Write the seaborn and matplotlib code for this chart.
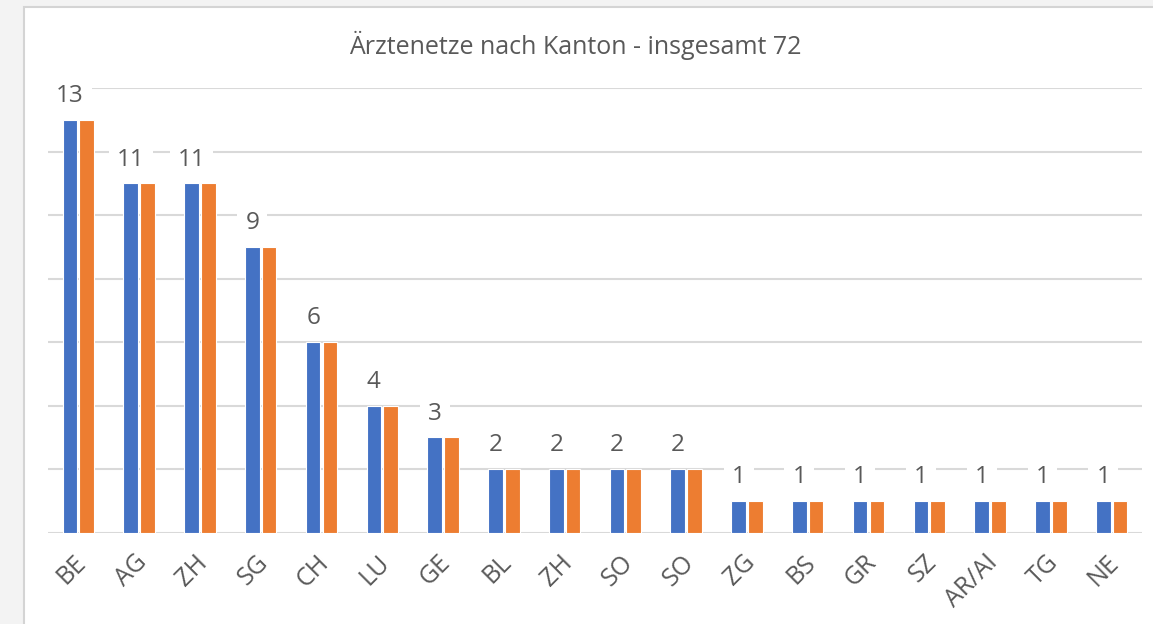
import pandas as pd
import numpy as np
import matplotlib.pyplot as plt
import seaborn as sns
from matplotlib.patches import Rectangle
from matplotlib.transforms import ScaledTranslation

# data (two identical series)
kantone = ["BE", "AG", "ZH", "SG", "CH", "LU", "GE", "BL", "ZH", "SO",
           "SO", "ZG", "BS", "GR", "SZ", "AR/AI", "TG", "NE"]
serie_1 = [13, 11, 11, 9, 6, 4, 3, 2, 2, 2, 2, 1, 1, 1, 1, 1, 1, 1]
serie_2 = [13, 11, 11, 9, 6, 4, 3, 2, 2, 2, 2, 1, 1, 1, 1, 1, 1, 1]
serien = ["Serie 1", "Serie 2"]

title = "Ärztenetze nach Kanton - insgesamt 72"
text_color = "#595959"
grid_color = "#d9d9d9"
colors = ["#4472C4", "#ED7D31"]

# long format, positions as keys because ZH and SO appear twice
pos = list(range(len(kantone)))
df = pd.DataFrame({
    "pos": pos * 2,
    "wert": serie_1 + serie_2,
    "serie": [serien[0]] * len(pos) + [serien[1]] * len(pos),
})

sns.set_style("white")
plt.rcParams["font.family"] = ["Open Sans", "DejaVu Sans"]

fig = plt.figure(figsize=(11.53, 6.24), dpi=100, facecolor="#f3f3f3")
# white chart area like the excel frame (open to the right)
frame = Rectangle((24 / 1153, -0.1), 1.2, 1.1 - 7 / 624,
                  transform=fig.transFigure, facecolor="white",
                  edgecolor="#d4d4d4", linewidth=1.5, zorder=-10)
fig.patches.append(frame)

ax = fig.add_axes([48 / 1153, 1 - 532.5 / 624, (1142 - 48) / 1153, (532.5 - 88) / 624])
ax.set_facecolor("none")

sns.barplot(data=df, x="pos", y="wert", hue="serie", palette=colors,
            saturation=1, width=0.55, gap=0.12, edgecolor="white",
            linewidth=0.8, legend=False, ax=ax, zorder=3)

ax.set_xlim(-0.5, len(kantone) - 0.5)
ax.set_ylim(0, 14)
ax.set_yticks(np.arange(0, 15, 2))
ax.yaxis.grid(True, color=grid_color, linewidth=1.5, zorder=0)
ax.set_axisbelow(True)
ax.set_yticklabels([])
ax.tick_params(axis="y", length=0)
for s in ax.spines.values():
    s.set_visible(False)

ax.set_xticks(pos)
ax.set_xticklabels(kantone, rotation=45, ha="right", va="center",
                   rotation_mode="anchor", color=text_color, fontsize=18)
ax.tick_params(axis="x", length=0, pad=19)
# nudge tick labels a little to the right
shift = ScaledTranslation(4 / 100, 0, fig.dpi_scale_trans)
for lbl in ax.get_xticklabels():
    lbl.set_transform(lbl.get_transform() + shift)
ax.set_xlabel("")
ax.set_ylabel("")

# data labels sit on the blue series, white box breaks the gridline
for bar, v in zip(ax.containers[0], serie_1):
    xc = bar.get_x() + bar.get_width() / 2
    ax.annotate(str(v), (xc, v), xytext=(0, 17), textcoords="offset points",
                ha="center", va="center", fontsize=17.5, color=text_color,
                bbox=dict(boxstyle="square,pad=0.33", facecolor="white",
                          edgecolor="none"), zorder=4)

fig.text(575 / 1153, 1 - 45 / 624, title, ha="center", va="center",
         fontsize=18, color=text_color)

plt.savefig("out.png", dpi=100, facecolor=fig.get_facecolor())
